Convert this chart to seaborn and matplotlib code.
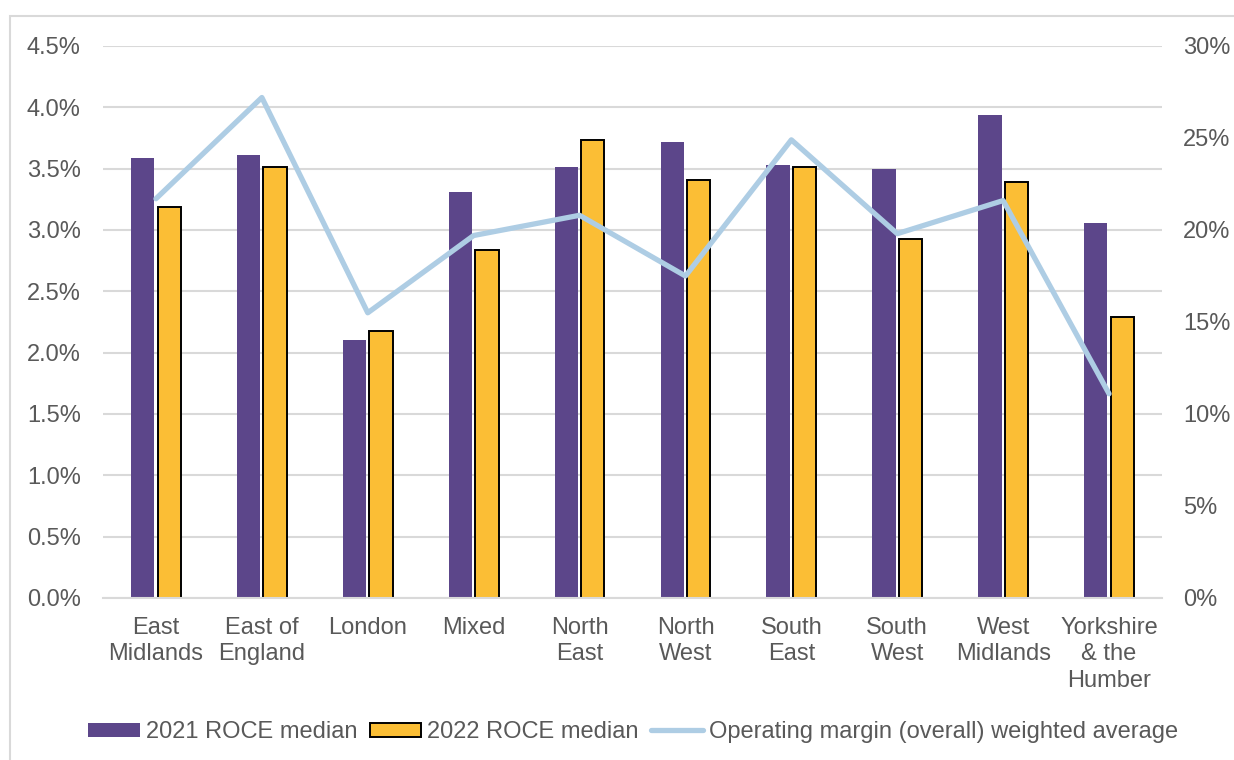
import numpy as np
import pandas as pd
import matplotlib
matplotlib.use("Agg")
import matplotlib.pyplot as plt
from matplotlib.patches import Rectangle, Patch
from matplotlib.lines import Line2D
from matplotlib.ticker import FuncFormatter, MultipleLocator
import seaborn as sns

# Regions (tick labels with line breaks)
regions = ["East\nMidlands", "East of\nEngland", "London", "Mixed", "North\nEast",
           "North\nWest", "South\nEast", "South\nWest", "West\nMidlands",
           "Yorkshire\n& the\nHumber"]
# Return on capital employed medians (%)
roce_2021 = [3.59, 3.61, 2.10, 3.31, 3.51, 3.72, 3.53, 3.50, 3.94, 3.06]
roce_2022 = [3.19, 3.51, 2.18, 2.84, 3.73, 3.41, 3.51, 2.93, 3.39, 2.29]
# Operating margin (overall) weighted average (%)
op_margin = [21.7, 27.2, 15.5, 19.7, 20.8, 17.5, 24.9, 19.8, 21.6, 11.1]

series_names = ["2021 ROCE median", "2022 ROCE median"]
line_name = "Operating margin (overall) weighted average"

PURPLE = "#5C468A"
YELLOW = "#FBBE35"
BLUE = "#AECDE4"
GRID = "#D9D9D9"
TEXT = "#595959"

sns.set_theme(style="white")
plt.rcParams["font.family"] = ["Liberation Sans", "DejaVu Sans"]
FS = 17

df = pd.DataFrame({
    "region": regions * 2,
    "series": [series_names[0]] * len(regions) + [series_names[1]] * len(regions),
    "value": roce_2021 + roce_2022,
})

fig = plt.figure(figsize=(12.34, 7.6), dpi=100)
ax = fig.add_axes([103 / 1234, 1 - 598 / 760, (1162 - 103) / 1234, (598 - 46) / 760])

sns.barplot(data=df, x="region", y="value", hue="series", order=regions,
            hue_order=series_names, palette=[PURPLE, YELLOW], width=0.5, gap=0.12,
            ax=ax, legend=False, saturation=1)

# Outline on the 2022 bars only
for patch in ax.containers[0]:
    patch.set_edgecolor("none")
for patch in ax.containers[1]:
    patch.set_edgecolor("black")
    patch.set_linewidth(1.4)

ax.set_ylim(0, 4.5)
ax.yaxis.set_major_locator(MultipleLocator(0.5))
ax.yaxis.set_major_formatter(FuncFormatter(lambda v, p: f"{v:.1f}%"))
ax.set_xlim(-0.5, len(regions) - 0.5)
ax.grid(axis="y", color=GRID, linewidth=1.5)
ax.set_axisbelow(True)
for s in ["top", "right", "left"]:
    ax.spines[s].set_visible(False)
ax.spines["bottom"].set_color(GRID)
ax.spines["bottom"].set_linewidth(1.5)
ax.set_xlabel("")
ax.set_ylabel("")
ax.tick_params(axis="y", labelsize=FS, labelcolor=TEXT, length=0, pad=16)
ax.tick_params(axis="x", labelsize=FS, labelcolor=TEXT, length=0, pad=13.5)
for lbl in ax.get_xticklabels():
    lbl.set_linespacing(1.26)

# Secondary axis for operating margin
ax2 = ax.twinx()
sns.lineplot(x=np.arange(len(regions)), y=op_margin, ax=ax2, color=BLUE,
             linewidth=3.8, legend=False)
ax2.set_ylim(0, 30)
ax2.yaxis.set_major_locator(MultipleLocator(5))
ax2.yaxis.set_major_formatter(FuncFormatter(lambda v, p: f"{v:.0f}%"))
ax2.tick_params(axis="y", labelsize=FS, labelcolor=TEXT, length=0, pad=15)
ax2.grid(False)
for s in ax2.spines.values():
    s.set_visible(False)
ax2.set_ylabel("")
ax2.set_xlim(-0.5, len(regions) - 0.5)

# Chart border
fig.patches.append(Rectangle((10 / 1234, -0.2), 1.2, (760 - 16) / 760 + 0.2,
                             transform=fig.transFigure, fill=False,
                             edgecolor=GRID, linewidth=1.5))

handles = [Patch(facecolor=PURPLE, edgecolor="none"),
           Patch(facecolor=YELLOW, edgecolor="black", linewidth=1.4),
           Line2D([0], [0], color=BLUE, linewidth=3.8)]
leg = fig.legend(handles, series_names + [line_name], loc="center",
                 bbox_to_anchor=(633 / 1234, 1 - 732 / 760), ncol=3, frameon=False,
                 fontsize=FS, handlelength=2.2, handleheight=0.55,
                 handletextpad=0.25, columnspacing=0.5, borderpad=0)
for t in leg.get_texts():
    t.set_color(TEXT)

fig.savefig("out.png", dpi=100)
